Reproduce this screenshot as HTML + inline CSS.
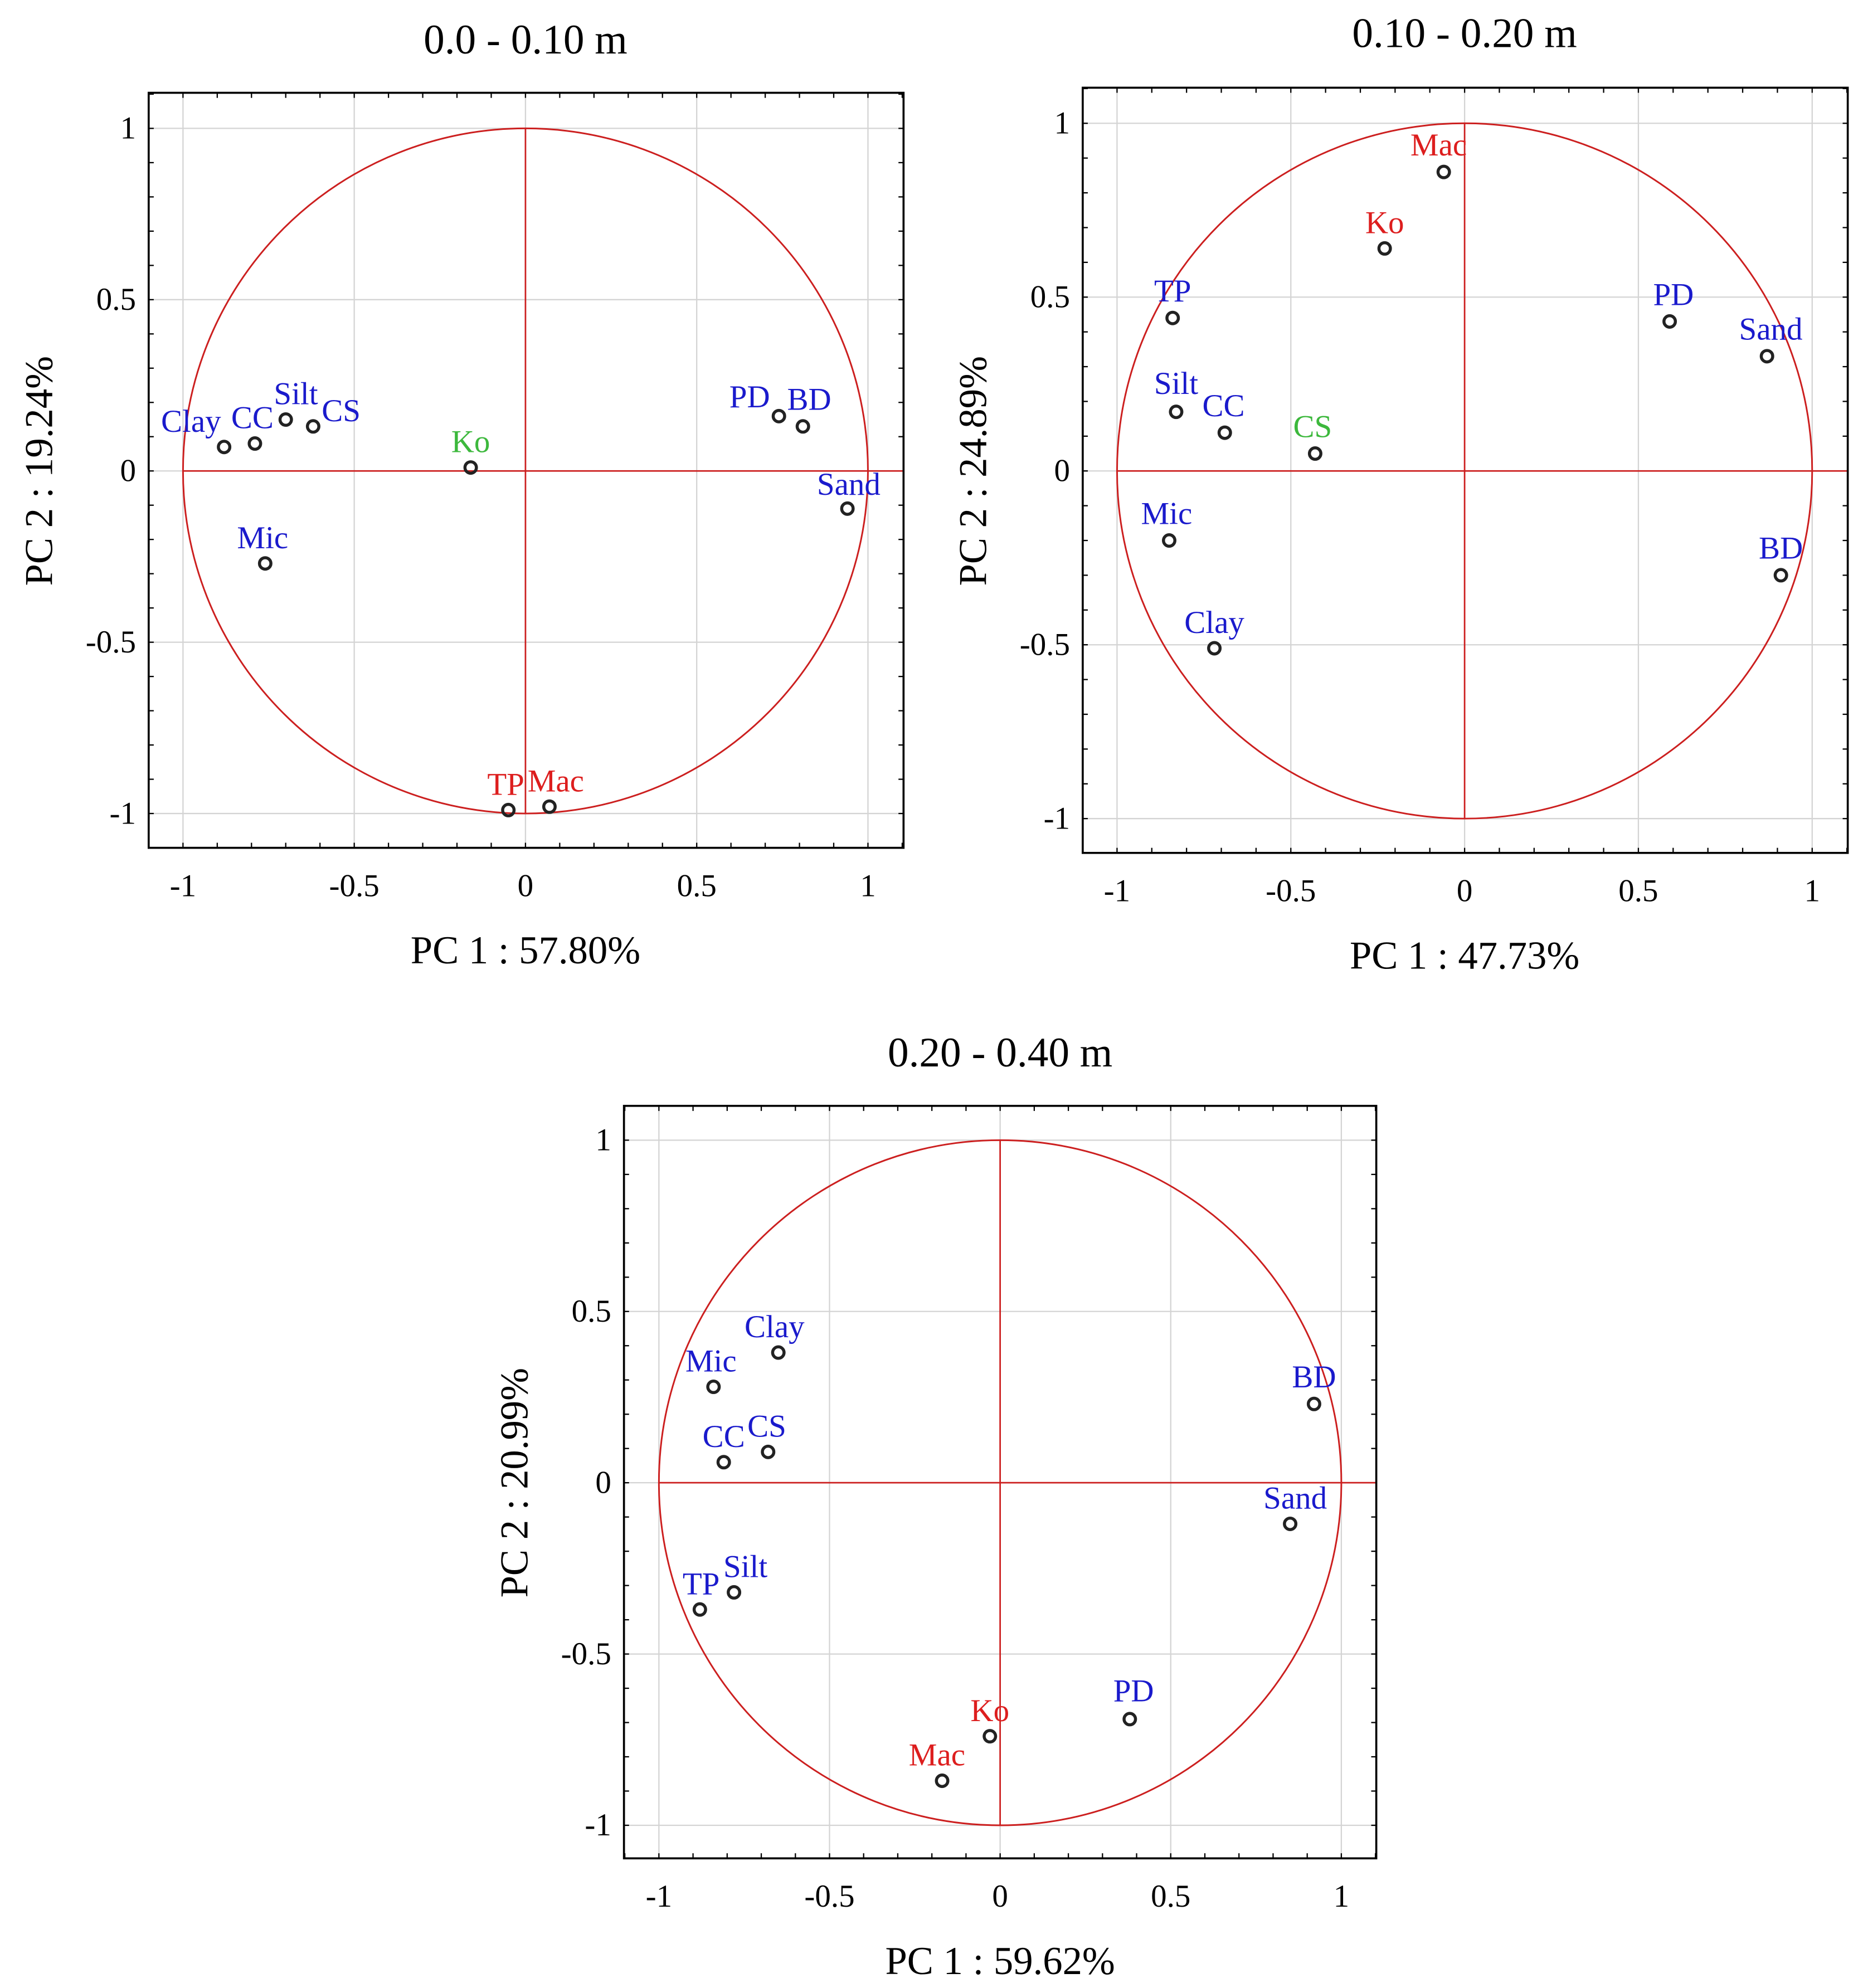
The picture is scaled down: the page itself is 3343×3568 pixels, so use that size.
<!DOCTYPE html>
<html><head><meta charset="utf-8"><style>
html,body{margin:0;padding:0;background:#fff;}
svg{display:block;}
text{font-family:"Liberation Serif",serif;}
</style></head><body>
<svg id="fig" width="3343" height="3568" viewBox="0 0 1466 1564" preserveAspectRatio="none" xmlns="http://www.w3.org/2000/svg"></svg>
<script>
// Panel 1: 0.0 - 0.10 m
const p1Labels = ["Clay","CC","Silt","CS","Ko","PD","BD","Sand","Mic","TP","Mac"];
const p1PC1 = [-0.88,-0.79,-0.70,-0.62,-0.16,0.74,0.81,0.94,-0.76,-0.05,0.07];
const p1PC2 = [0.07,0.08,0.15,0.13,0.01,0.16,0.13,-0.11,-0.27,-0.99,-0.98];
const p1Colors = ["blue","blue","blue","blue","green","blue","blue","blue","blue","red","red"];
// Panel 2: 0.10 - 0.20 m
const p2Labels = ["Mac","Ko","TP","PD","Sand","Silt","CC","CS","Mic","BD","Clay"];
const p2PC1 = [-0.06,-0.23,-0.84,0.59,0.87,-0.83,-0.69,-0.43,-0.85,0.91,-0.72];
const p2PC2 = [0.86,0.64,0.44,0.43,0.33,0.17,0.11,0.05,-0.20,-0.30,-0.51];
const p2Colors = ["red","red","blue","blue","blue","blue","blue","green","blue","blue","blue"];
// Panel 3: 0.20 - 0.40 m
const p3Labels = ["Clay","Mic","BD","CC","CS","Sand","Silt","TP","PD","Ko","Mac"];
const p3PC1 = [-0.65,-0.84,0.92,-0.81,-0.68,0.85,-0.78,-0.88,0.38,-0.03,-0.17];
const p3PC2 = [0.38,0.28,0.23,0.06,0.09,-0.12,-0.32,-0.37,-0.69,-0.74,-0.87];
const p3Colors = ["blue","blue","blue","blue","blue","blue","blue","blue","blue","red","red"];
const tickVals = [-1,-0.5,0,0.5,1];
const tickText = ["-1","-0.5","0","0.5","1"];

const NS="http://www.w3.org/2000/svg";
const svg=document.getElementById('fig');
function mk(tag,attrs,parent){const e=document.createElementNS(NS,tag);for(const k in attrs)e.setAttribute(k,attrs[k]);(parent||svg).appendChild(e);return e;}
const colorMap={blue:"#1a1acc",red:"#dd1e1e",green:"#3cb83c"};
const offs1={Clay:[-26,-20],CC:[-2,-20],Silt:[8,-20],CS:[22,-12],Ko:[0,-20],PD:[-23,-15],BD:[5,-21],Sand:[1,-19],Mic:[-2,-20],TP:[-2,-20],Mac:[5,-20]};
const offs2={Mac:[-4,-21],Ko:[0,-20],TP:[0,-21],PD:[3,-21],Sand:[3,-21],Silt:[0,-22],CC:[-1,-21],CS:[-2,-21],Mic:[-2,-21],BD:[0,-21],Clay:[0,-20]};
const offs3={Clay:[-3,-20],Mic:[-2,-20],BD:[0,-21],CC:[0,-20],CS:[-1,-20],Sand:[4,-20],Silt:[9,-20],TP:[1,-20],PD:[3,-22],Ko:[0,-20],Mac:[-4,-20]};

function panel(cfg){
  const g=mk('g',{});
  
  
  const sx=v=>cfg.cx+v*cfg.ux, sy=v=>cfg.cy-v*cfg.uy;
  tickVals.forEach(v=>{
    const gl=mk('line',{x1:sx(v),x2:sx(v),y1:cfg.fy0,y2:cfg.fy1,stroke:"#d4d4d4","stroke-width":1},g);
    
    
    const gh=mk('line',{x1:cfg.fx0,x2:cfg.fx1,y1:sy(v),y2:sy(v),stroke:"#d4d4d4","stroke-width":1},g);
    
    
  });
  for(let i=-11;i<=11;i++){
    const v=i/10, x=sx(v), y=sy(v);
    if(x>cfg.fx0&&x<cfg.fx1){mk('line',{x1:x,x2:x,y1:cfg.fy1,y2:cfg.fy1-4,stroke:"#000","stroke-width":1},g);mk('line',{x1:x,x2:x,y1:cfg.fy0,y2:cfg.fy0+4,stroke:"#000","stroke-width":1},g);}
    if(y>cfg.fy0&&y<cfg.fy1){mk('line',{x1:cfg.fx0,x2:cfg.fx0+4,y1:y,y2:y,stroke:"#000","stroke-width":1},g);mk('line',{x1:cfg.fx1,x2:cfg.fx1-4,y1:y,y2:y,stroke:"#000","stroke-width":1},g);}
  }
  const c=mk('ellipse',{cx:sx(0),cy:sy(0),rx:cfg.ux,ry:cfg.uy,fill:"none",stroke:"#cc1f1f","stroke-width":1.3},g);
  
  
  const ax=mk('line',{x1:sx(-1),x2:cfg.fx1,y1:sy(0),y2:sy(0),stroke:"#cc1f1f","stroke-width":1.2},g);
  
  
  const ay=mk('line',{x1:sx(0),x2:sx(0),y1:sy(1),y2:sy(-1),stroke:"#cc1f1f","stroke-width":1.2},g);
  
  
  const fr=mk('rect',{x:cfg.fx0,y:cfg.fy0,width:cfg.fx1-cfg.fx0,height:cfg.fy1-cfg.fy0,fill:"none",stroke:"#000","stroke-width":1.6},g);
  
  
  tickVals.forEach((v,i)=>{
    const tx=mk('text',{x:sx(v),y:cfg.fy1+38,"text-anchor":"middle","font-size":25,fill:"#000"},g);
    tx.textContent=tickText[i];
    
    
    const ty=mk('text',{x:cfg.fx0-10,y:sy(v)+8,"text-anchor":"end","font-size":25,fill:"#000"},g);
    ty.textContent=tickText[i];
    
    
  });
  const t=mk('text',{x:sx(0),y:cfg.titleY,"text-anchor":"middle","font-size":33,fill:"#000"},g);
  t.textContent=cfg.title;
  
  
  const xt=mk('text',{x:sx(0),y:cfg.fy1+91,"text-anchor":"middle","font-size":31,fill:"#000"},g);
  xt.textContent=cfg.xtitle;
  
  
  const yx=cfg.fx0-76, yy=sy(0);
  const yt=mk('text',{x:yx,y:yy,"text-anchor":"middle","font-size":31,fill:"#000",transform:`rotate(-90 ${yx} ${yy})`},g);
  yt.textContent=cfg.ytitle;
  
  
  cfg.labels.forEach((lab,i)=>{
    const px=sx(cfg.pc1[i]), py=sy(cfg.pc2[i]);
    const pt=mk('circle',{cx:px,cy:py,r:4.5,fill:"none",stroke:"#222","stroke-width":2.4},g);
    
    
    const o=cfg.offs[lab]||[0,-20];
    const lt=mk('text',{x:px+o[0],y:py+o[1]+8,"text-anchor":"middle","font-size":25,fill:colorMap[cfg.colors[i]]},g);
    lt.textContent=lab;
    
    
  });
}
panel({name:'panel-0-10',title:'0.0 - 0.10 m',xtitle:'PC 1 : 57.80%',ytitle:'PC 2 : 19.24%',
  fx0:117,fy0:73,fx1:711,fy1:667,cx:413.5,cy:370.5,ux:269.5,uy:269.5,titleY:42,
  labels:p1Labels,pc1:p1PC1,pc2:p1PC2,colors:p1Colors,offs:offs1});
panel({name:'panel-10-20',title:'0.10 - 0.20 m',xtitle:'PC 1 : 47.73%',ytitle:'PC 2 : 24.89%',
  fx0:852,fy0:69,fx1:1454,fy1:671,cx:1152.5,cy:370.5,ux:273.5,uy:273.5,titleY:37,
  labels:p2Labels,pc1:p2PC1,pc2:p2PC2,colors:p2Colors,offs:offs2});
panel({name:'panel-20-40',title:'0.20 - 0.40 m',xtitle:'PC 1 : 59.62%',ytitle:'PC 2 : 20.99%',
  fx0:491,fy0:870,fx1:1083,fy1:1462,cx:787,cy:1166.5,ux:268.5,uy:269.5,titleY:839,
  labels:p3Labels,pc1:p3PC1,pc2:p3PC2,colors:p3Colors,offs:offs3});
</script>
</body></html>
